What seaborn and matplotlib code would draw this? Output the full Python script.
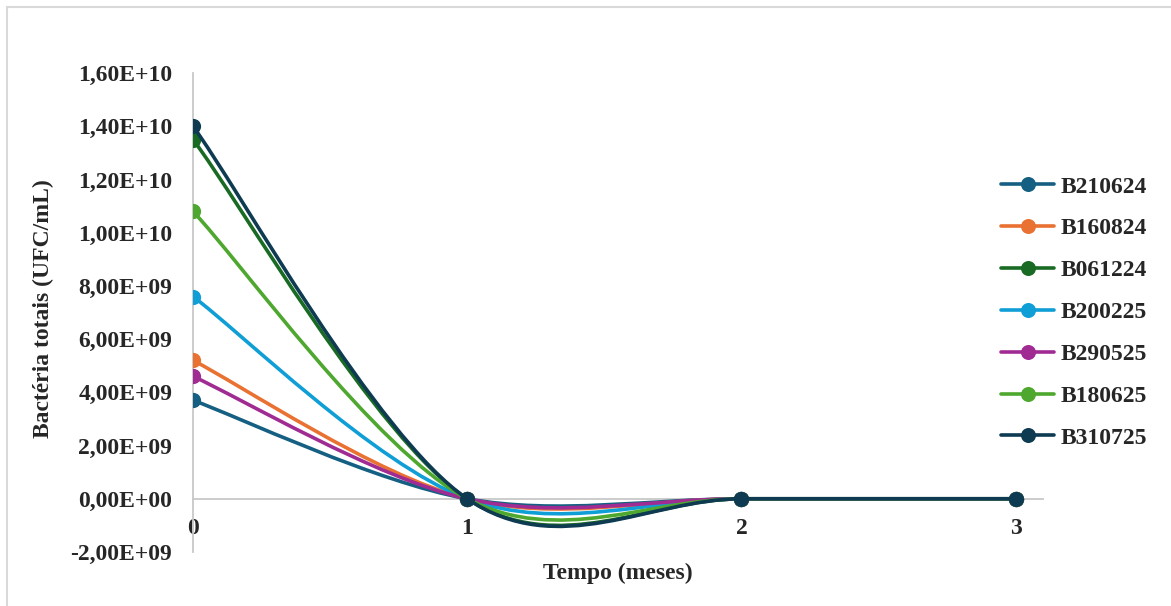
import numpy as np
import matplotlib
matplotlib.use('Agg')
import matplotlib.pyplot as plt
from matplotlib.path import Path
from matplotlib.patches import PathPatch, Rectangle
from matplotlib.lines import Line2D
from matplotlib.ticker import FuncFormatter
import seaborn as sns

# Data
tempo = [0, 1, 2, 3]
series_names = ['B210624', 'B160824', 'B061224', 'B200225', 'B290525', 'B180625', 'B310725']
B210624 = [3.7e9, 0, 0, 0]
B160824 = [5.2e9, 0, 0, 0]
B061224 = [1.35e10, 0, 0, 0]
B200225 = [7.6e9, 0, 0, 0]
B290525 = [4.6e9, 0, 0, 0]
B180625 = [1.08e10, 0, 0, 0]
B310725 = [1.40e10, 0, 0, 0]
values = [B210624, B160824, B061224, B200225, B290525, B180625, B310725]
colors = ['#156082', '#E97132', '#196B24', '#0F9ED5', '#A02B93', '#4EA72E', '#0E3A52']


def smooth_path(x, y):
    """Excel-style smoothed line as cubic Bezier segments"""
    pts = np.column_stack([x, y]).astype(float)
    n = len(pts)
    verts = [pts[0]]
    codes = [Path.MOVETO]
    for i in range(n - 1):
        p_prev = pts[i - 1] if i > 0 else pts[i]
        p_next = pts[i + 2] if i + 2 < n else pts[i + 1]
        c1 = pts[i] + (pts[i + 1] - p_prev) / 6.0
        c2 = pts[i + 1] - (p_next - pts[i]) / 6.0
        verts += [c1, c2, pts[i + 1]]
        codes += [Path.CURVE4] * 3
    return Path(verts, codes)


sns.set_style('white')
plt.rcParams['font.family'] = ['Liberation Serif', 'DejaVu Serif']
plt.rcParams['font.weight'] = 'bold'

fig = plt.figure(figsize=(11.71, 6.06), dpi=100)
ax = fig.add_axes([0.1648, 0.0891, 0.8907 - 0.1648, 0.8795 - 0.0891])

for i, (name, vals, col) in enumerate(zip(series_names, values, colors)):
    patch = PathPatch(smooth_path(tempo, vals), facecolor='none', edgecolor=col,
                      lw=2.6, zorder=3 + 2 * i, capstyle='round', joinstyle='round')
    ax.add_patch(patch)
    sns.scatterplot(x=tempo, y=vals, color=col, s=120, linewidth=0,
                    zorder=4 + 2 * i, ax=ax, legend=False)

ax.set_xlim(0, 3.1)
ax.set_ylim(-2e9, 1.6e10)
ax.set_xticks(tempo)
ax.set_yticks(np.arange(-2e9, 1.61e10, 2e9))
ax.yaxis.set_major_formatter(FuncFormatter(
    lambda v, p: '{:.2E}'.format(v).replace('.', ',')))

for s in ['top', 'right']:
    ax.spines[s].set_visible(False)
ax.spines['left'].set_color('#C8C8C8')
ax.spines['left'].set_linewidth(1.3)
ax.spines['bottom'].set_position(('data', 0))
ax.spines['bottom'].set_color('#C8C8C8')
ax.spines['bottom'].set_linewidth(1.3)
ax.spines['left'].set_zorder(1)
ax.spines['bottom'].set_zorder(1)
ax.tick_params(axis='both', length=0, labelsize=17)
ax.tick_params(axis='x', pad=14)
ax.tick_params(axis='y', pad=15)
for lab in ax.get_xticklabels() + ax.get_yticklabels():
    lab.set_fontweight('bold')

fig.text(0.528, 0.054, 'Tempo (meses)', ha='center', va='center',
         fontsize=17, fontweight='bold')
fig.text(0.037, 0.49, 'Bactéria totais (UFC/mL)', ha='center', va='center',
         rotation=90, fontsize=17, fontweight='bold')

handles = [Line2D([0], [0], color=c, lw=2.6, marker='o', markersize=10.8,
                  markeredgewidth=0) for c in colors]
leg = fig.legend(handles, series_names, loc='upper left',
                 bbox_to_anchor=(0.847, 0.725), frameon=False,
                 prop={'size': 17, 'weight': 'bold'}, handlelength=2.25,
                 handletextpad=0.25, labelspacing=0.86, borderaxespad=0)

# outer chart border (cropped at right/bottom like the reference)
fig.patches.append(Rectangle((7 / 1171, -0.1), 1.2, 1 - 7 / 606 + 0.1,
                             transform=fig.transFigure, fill=False,
                             edgecolor='#D9D9D9', lw=1.5))

fig.savefig('out.png', dpi=100)
